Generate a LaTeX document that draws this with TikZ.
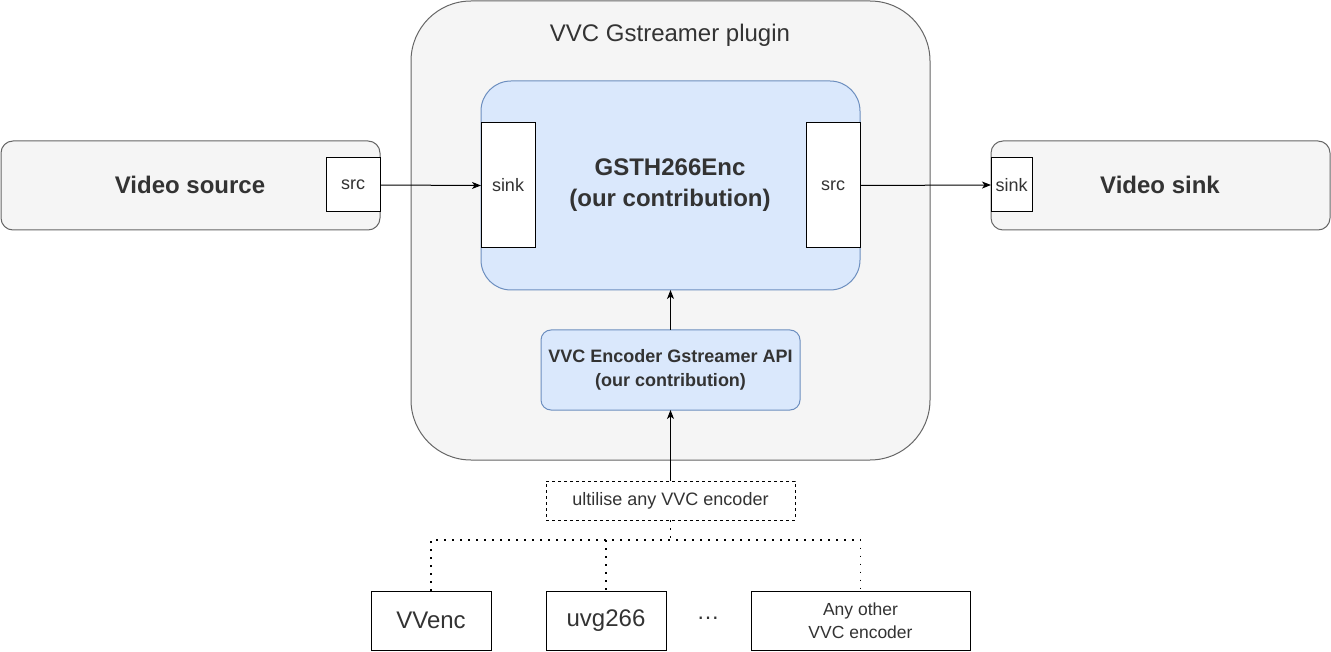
\documentclass[tikz,border=0pt]{standalone}
\usepackage{fontspec}
\setmainfont{Liberation Sans}
\usetikzlibrary{arrows.meta}
\definecolor{txt}{HTML}{333333}
\definecolor{greyfill}{HTML}{F5F5F5}
\definecolor{greyline}{HTML}{666666}
\definecolor{bluefill}{HTML}{DAE8FC}
\definecolor{blueline}{HTML}{6C8EBF}
\tikzset{
  every node/.style={inner sep=0pt, outer sep=0pt, text=txt, align=center},
  greybox/.style={draw=greyline, fill=greyfill, line width=1pt},
  bluebox/.style={draw=blueline, fill=bluefill, line width=1pt},
  port/.style={draw=black, fill=white, line width=1pt, font=\fontsize{18}{21}\selectfont},
  encbox/.style={draw=black, fill=white, line width=1pt},
  arr/.style={-{Stealth[length=9pt,width=7pt,inset=2.5pt]}, line width=1pt, draw=black},
  dotline/.style={line width=1.8pt, dash pattern=on 1.8pt off 6.2pt, draw=black},
}
\begin{document}
\begin{tikzpicture}[x=1pt,y=-1pt]
\useasboundingbox (0,0) rectangle (1331,652);
% plugin container
\node[greybox, rounded corners=60pt, minimum width=519pt, minimum height=459pt] (plugin) at (670.5,230.5) {};
\node[font=\fontsize{24}{28}\selectfont] (ptitle) at (670,35) {VVC Gstreamer plugin};
% main element
\node[bluebox, rounded corners=30pt, minimum width=379pt, minimum height=209pt] (gst) at (670.5,185.5) {};
\node[font=\bfseries\fontsize{24}{31}\selectfont] (gsttext) at (670,185) {GSTH266Enc\\(our contribution)};
\node[port, minimum width=54pt, minimum height=125pt] (gsink) at (508,185.5) {sink};
\node[port, minimum width=54pt, minimum height=125pt] (gsrc) at (833,185.5) {src};
% API
\node[bluebox, rounded corners=10pt, minimum width=259pt, minimum height=80pt, font=\bfseries\fontsize{18}{24}\selectfont] (api) at (670.5,370) {VVC Encoder Gstreamer API\\(our contribution)};
% video source
\node[greybox, rounded corners=12pt, minimum width=379pt, minimum height=89pt] (vsrc) at (190.5,185.5) {};
\node[font=\bfseries\fontsize{24}{28}\selectfont] (vsrctext) at (190,185) {Video source};
\node[port, minimum width=54pt, minimum height=54pt] (vsrcport) at (353,185) {src};
% video sink
\node[greybox, rounded corners=12pt, minimum width=339pt, minimum height=89pt] (vsink) at (1160.5,185.5) {};
\node[font=\bfseries\fontsize{24}{28}\selectfont] (vsinktext) at (1160,185) {Video sink};
\node[port, minimum width=41pt, minimum height=54pt] (vsinkport) at (1011.5,185) {sink};
% connectors
\draw[arr] (vsrcport.east) -- (gsink.west);
\draw[arr] (gsrc.east) -- (vsinkport.west);
\draw[arr] (api.north) -- (gst.south);
% dashed label box
\node[draw=black, fill=white, line width=1pt, dash pattern=on 3pt off 3pt, minimum width=249pt, minimum height=39pt, font=\fontsize{18}{22}\selectfont] (any) at (670.5,500.5) {ultilise any VVC encoder};
\draw[arr] (any.north) -- (api.south);
% encoders
\node[encbox, minimum width=120pt, minimum height=59pt, font=\fontsize{24}{28}\selectfont] (vvenc) at (431,620.5) {VVenc};
\node[encbox, minimum width=120pt, minimum height=59pt, font=\fontsize{24}{28}\selectfont] (uvg) at (606,620.5) {uvg266};
\node[encbox, minimum width=219pt, minimum height=59pt, font=\fontsize{17.5}{23}\selectfont] (other) at (860.5,620.5) {Any other\\VVC encoder};
\node[font=\fontsize{23}{27}\selectfont] (dots) at (708,618) {\dots};
\coordinate (junc) at (670.5,540);
\draw[dotline] (any.south) -- (junc);
\draw[dotline] (vvenc.north) -- (vvenc.north |- junc) -- (other.north |- junc) -- (other.north);
\draw[dotline] (uvg.north |- junc) -- (uvg.north);
\end{tikzpicture}
\end{document}
